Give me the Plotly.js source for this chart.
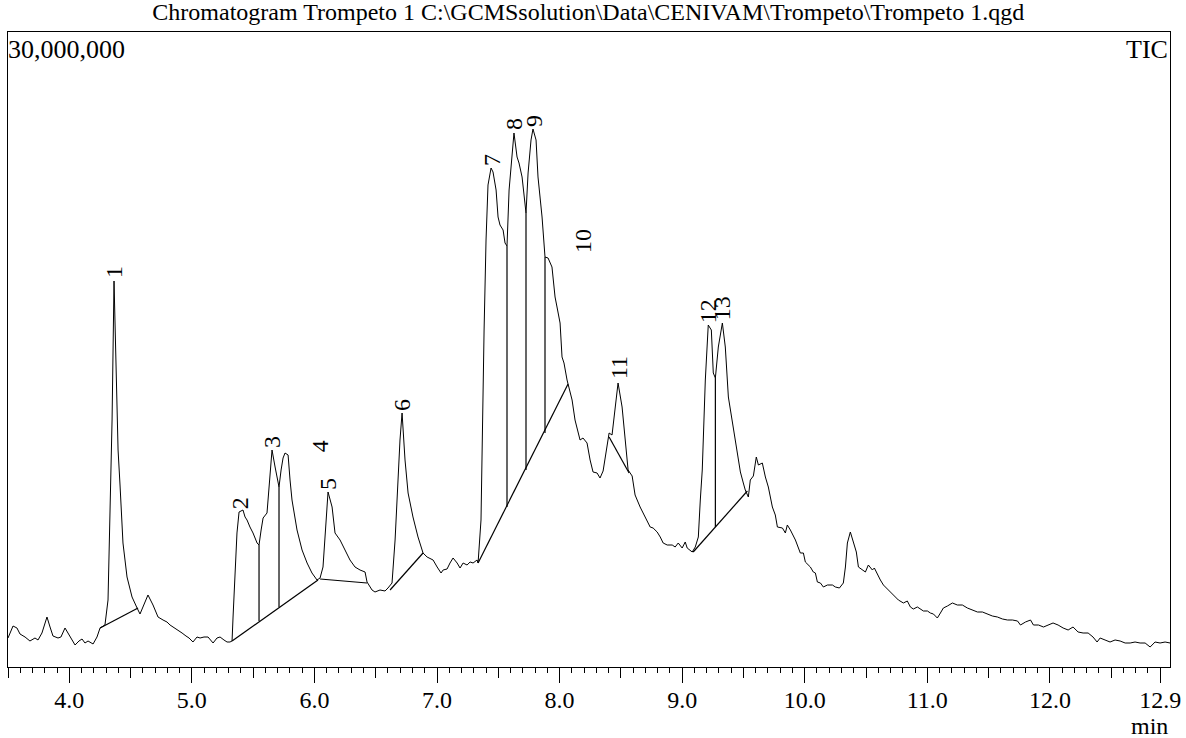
<!DOCTYPE html>
<html>
<head>
<meta charset="utf-8">
<script src="https://cdn.plot.ly/plotly-3.0.1.min.js"></script>
<style>html,body{margin:0;padding:0;background:#fff;}#chart{width:1186px;height:738px;}</style>
</head>
<body>
<div id="chart"></div>
<script>
// Retention time (min)
const retentionTime = [
3.500,3.541,3.573,3.598,3.639,3.679,3.720,3.745,3.777,3.818,3.843,3.867,3.908,3.932,3.965,4.006,4.047,4.079,4.104,4.128,
4.153,4.194,4.226,4.251,4.291,4.316,4.332,4.349,4.365,4.381,4.398,4.414,4.438,4.471,4.512,4.553,4.577,4.618,4.642,4.683,
4.724,4.765,4.797,4.822,4.846,4.879,4.920,4.952,4.977,5.009,5.042,5.067,5.099,5.132,5.156,5.173,5.205,5.230,5.262,5.287,
5.311,5.328,5.336,5.352,5.368,5.385,5.417,5.434,5.450,5.474,5.499,5.532,5.548,5.565,5.581,5.613,5.622,5.638,5.654,5.679,
5.695,5.711,5.728,5.744,5.760,5.785,5.801,5.817,5.858,5.899,5.940,5.980,6.021,6.046,6.070,6.095,6.111,6.144,6.168,6.209,
6.250,6.290,6.331,6.372,6.413,6.429,6.470,6.494,6.535,6.576,6.600,6.633,6.658,6.674,6.698,6.715,6.739,6.764,6.804,6.845,
6.886,6.919,6.968,7.001,7.033,7.050,7.082,7.106,7.131,7.164,7.188,7.213,7.245,7.270,7.294,7.327,7.335,7.359,7.367,7.384,
7.400,7.416,7.441,7.457,7.482,7.498,7.514,7.539,7.555,7.571,7.588,7.612,7.628,7.653,7.669,7.694,7.710,7.726,7.743,7.767,
7.783,7.808,7.824,7.857,7.881,7.906,7.938,7.963,7.979,8.004,8.020,8.036,8.061,8.077,8.102,8.126,8.151,8.167,8.191,8.224,
8.249,8.273,8.306,8.330,8.355,8.387,8.404,8.428,8.453,8.477,8.510,8.534,8.559,8.592,8.616,8.657,8.682,8.714,8.739,8.763,
8.796,8.821,8.845,8.878,8.919,8.943,8.968,9.000,9.025,9.041,9.082,9.107,9.132,9.148,9.164,9.189,9.213,9.238,9.254,9.271,
9.295,9.328,9.352,9.377,9.418,9.450,9.475,9.499,9.515,9.540,9.556,9.581,9.605,9.622,9.654,9.679,9.703,9.736,9.760,9.777,
9.818,9.842,9.858,9.883,9.924,9.964,9.989,10.005,10.046,10.070,10.087,10.103,10.128,10.152,10.185,10.226,10.250,10.283,10.315,10.332,
10.348,10.372,10.397,10.421,10.438,10.470,10.495,10.519,10.552,10.568,10.593,10.617,10.642,10.682,10.723,10.764,10.805,10.837,10.862,10.886,
10.919,10.944,10.968,11.001,11.025,11.050,11.082,11.107,11.131,11.164,11.205,11.245,11.286,11.327,11.368,11.409,11.450,11.490,11.531,11.572,
11.613,11.654,11.695,11.736,11.760,11.801,11.842,11.866,11.907,11.948,11.989,12.026,12.067,12.108,12.149,12.189,12.230,12.271,12.312,12.352,
12.385,12.410,12.450,12.491,12.532,12.573,12.614,12.655,12.695,12.736,12.777,12.818,12.858,12.899,12.940,12.981
];
// Total ion current (millions of counts)
const ticMillions = [
1.370,1.937,1.843,1.559,1.417,1.228,1.370,1.276,1.606,2.362,1.890,1.465,1.370,1.417,1.843,1.465,1.039,1.228,1.323,1.134,
1.228,1.087,1.417,1.843,1.984,3.165,6.945,11.669,18.236,14.031,10.252,8.598,5.858,4.252,3.307,2.787,2.504,3.071,3.402,2.929,
2.362,2.220,2.126,1.984,1.890,1.795,1.606,1.465,1.370,1.181,1.417,1.370,1.417,1.417,1.228,1.134,1.370,1.417,1.276,1.181,
1.181,1.228,2.362,4.583,6.331,7.323,7.417,7.087,6.945,6.614,6.331,5.858,5.764,6.472,7.039,7.276,7.890,9.307,10.252,9.449,
8.976,8.504,9.307,9.874,10.110,10.016,8.835,7.890,6.472,5.528,4.913,4.441,4.110,4.205,4.724,6.945,8.268,7.559,6.331,6.000,
5.528,5.055,4.724,4.583,4.488,4.016,3.638,3.543,3.638,3.591,3.732,3.968,6.000,7.890,10.724,12.000,9.780,8.220,7.087,6.142,
5.386,5.197,5.055,4.724,4.441,4.583,4.630,4.913,5.150,4.913,4.677,4.913,4.819,4.961,4.913,5.055,4.913,6.945,10.252,15.921,
20.173,22.772,23.575,23.386,22.535,21.260,20.882,20.646,20.031,19.890,22.535,24.094,25.228,24.094,23.811,23.150,22.205,21.449,23.339,24.898,
25.417,24.898,23.150,21.260,19.370,19.323,18.898,17.480,17.008,16.252,14.646,14.362,13.559,13.181,12.614,11.669,11.055,10.724,10.819,10.583,
9.780,9.213,9.165,8.929,9.260,10.488,11.055,10.961,12.283,13.417,12.283,10.724,9.307,9.024,8.126,7.559,7.276,6.945,6.614,6.567,
6.378,6.142,5.858,5.764,5.764,5.669,5.858,5.622,5.906,5.622,5.433,5.669,6.142,7.890,9.307,13.559,16.157,15.921,13.890,13.654,
15.118,16.252,15.118,12.756,11.197,10.110,9.213,8.693,8.362,8.031,8.835,9.024,9.921,9.543,9.638,8.976,8.504,7.559,7.181,6.614,
6.567,6.331,6.709,6.472,6.000,5.386,5.386,4.961,4.724,4.488,4.441,4.016,3.968,3.780,3.874,3.874,3.780,3.732,3.968,4.724,
5.858,6.378,5.858,5.433,4.724,4.583,4.488,4.819,4.583,4.677,4.346,4.110,3.874,3.638,3.402,3.165,3.024,3.118,2.835,2.740,
2.835,2.740,2.646,2.646,2.551,2.504,2.315,2.551,2.787,2.882,3.024,2.929,2.929,2.787,2.693,2.598,2.598,2.504,2.409,2.362,
2.268,2.220,2.220,2.173,1.984,2.126,2.220,1.984,1.984,1.890,1.984,2.079,1.984,1.843,1.748,1.890,1.654,1.606,1.606,1.417,
1.181,1.370,1.276,1.181,1.276,1.228,1.134,1.134,1.181,1.134,1.134,0.945,1.181,1.134,1.181,1.134
];
// Integration baselines (start/end)
const baseStartT = [4.251, 5.328, 6.046, 6.617, 7.335, 8.404, 9.090];
const baseStartI = [1.843, 1.228, 4.157, 3.638, 4.913, 10.866, 5.433];
const baseEndT   = [4.561, 6.029, 6.429, 6.886, 8.069, 8.567, 9.532];
const baseEndI   = [2.787, 4.110, 3.968, 5.386, 13.370, 9.165, 8.315];
// Peak split drop lines
const dropT    = [5.548, 5.711, 7.571, 7.726, 7.881, 9.271];
const dropTopI = [5.764, 8.504, 19.890, 21.449, 19.370, 13.654];
const dropBotI = [2.173, 2.835, 7.559, 9.307, 11.055, 6.614];
// Peak labels
const peakLabels = ['1','2','3','4','5','6','7','8','9','10','11','12','13'];
const labelT = [4.365, 5.395, 5.654, 6.048, 6.111, 6.715, 7.449, 7.628, 7.792, 8.191, 8.486, 9.213, 9.328];
const labelI = [18.66, 7.75, 10.63, 10.44, 8.65, 12.38, 23.95, 25.65, 25.80, 20.13, 14.13, 16.82, 16.96];
// Axis ticks
const majorTicks = [4, 5, 6, 7, 8, 9, 10, 11, 12, 12.9];
const majorTickText = ['4.0','5.0','6.0','7.0','8.0','9.0','10.0','11.0','12.0','12.9'];
const halfTicks = [3.5, 4.5, 5.5, 6.5, 7.5, 8.5, 9.5, 10.5, 11.5, 12.5];
const xRange = [3.5, 12.98];
const yRange = [0, 30];

const FONT = 'Liberation Serif, Times New Roman, serif';

// build integration line trace
const intX = [], intY = [];
for (let i = 0; i < baseStartT.length; i++) {
  intX.push(baseStartT[i], baseEndT[i], null);
  intY.push(baseStartI[i], baseEndI[i], null);
}
for (let i = 0; i < dropT.length; i++) {
  intX.push(dropT[i], dropT[i], null);
  intY.push(dropTopI[i], dropBotI[i], null);
}

const ghost = (ax) => ({x: retentionTime, y: ticMillions, type: 'scatter', mode: 'lines',
   line: {color: 'rgba(0,0,0,0)', width: 0}, hoverinfo: 'skip', xaxis: ax, yaxis: 'y'});

const traces = [
  {x: retentionTime, y: ticMillions, type: 'scatter', mode: 'lines',
   line: {color: '#000', width: 1}, hoverinfo: 'skip', xaxis: 'x', yaxis: 'y'},
  {x: intX, y: intY, type: 'scatter', mode: 'lines',
   line: {color: '#000', width: 1.2}, hoverinfo: 'skip', connectgaps: false, xaxis: 'x', yaxis: 'y'},
  ghost('x2'), ghost('x3')
];

const annotations = peakLabels.map((t, i) => ({
  text: t, x: labelT[i], y: labelI[i], xref: 'x', yref: 'y',
  showarrow: false, textangle: -90, xanchor: 'center', yanchor: 'middle',
  font: {family: FONT, size: 24, color: '#000'}
}));
annotations.push(
  {text: '30,000,000', xref: 'paper', yref: 'paper', x: 0, y: 1, xanchor: 'left', yanchor: 'top',
   showarrow: false, font: {family: FONT, size: 26, color: '#000'}, xshift: -2, yshift: -1},
  {text: 'TIC', xref: 'paper', yref: 'paper', x: 1, y: 1, xanchor: 'right', yanchor: 'top',
   showarrow: false, font: {family: FONT, size: 26, color: '#000'}, yshift: -1},
  {text: 'min', xref: 'paper', yref: 'paper', x: 1, y: 0, xanchor: 'right', yanchor: 'middle',
   showarrow: false, font: {family: FONT, size: 24, color: '#000'}, yshift: -59}
);

const layout = {
  width: 1186, height: 738,
  margin: {l: 8, r: 16, t: 32, b: 71, pad: 0},
  paper_bgcolor: '#fff', plot_bgcolor: '#fff',
  showlegend: false,
  title: {text: 'Chromatogram Trompeto 1 C:\\GCMSsolution\\Data\\CENIVAM\\Trompeto\\Trompeto 1.qgd',
          font: {family: FONT, size: 24, color: '#000'},
          x: 0.496, xref: 'container', xanchor: 'center', y: 0.984, yref: 'container', yanchor: 'middle'},
  xaxis: {
    range: xRange, showline: true, linecolor: '#000', linewidth: 1, mirror: true,
    showgrid: false, zeroline: false,
    tickmode: 'array', tickvals: majorTicks, ticktext: majorTickText,
    ticks: 'outside', ticklen: 11, tickwidth: 1, tickcolor: '#000',
    tickfont: {family: FONT, size: 24, color: '#000'},
    minor: {tickmode: 'linear', tick0: 3.5, dtick: 0.1, ticks: 'outside', ticklen: 5, tickwidth: 1, tickcolor: '#000', showgrid: false}
  },
  xaxis2: {
    range: xRange, overlaying: 'x', anchor: 'y', side: 'bottom',
    showline: false, showgrid: false, zeroline: false, showticklabels: false,
    tickmode: 'array', tickvals: halfTicks, ticks: 'outside', ticklen: 10, tickwidth: 1, tickcolor: '#000'
  },
  xaxis3: {
    range: xRange, overlaying: 'x', anchor: 'y', side: 'bottom',
    showline: false, showgrid: false, zeroline: false, showticklabels: false,
    tickmode: 'array', tickvals: majorTicks, ticks: 'outside', ticklen: 15, tickwidth: 1, tickcolor: '#000'
  },
  yaxis: {
    range: yRange, showline: true, linecolor: '#000', linewidth: 1, mirror: true,
    showgrid: false, zeroline: false, showticklabels: false, ticks: ''
  },
  annotations: annotations
};

Plotly.newPlot('chart', traces, layout, {staticPlot: true, displayModeBar: false});
</script>
</body>
</html>
